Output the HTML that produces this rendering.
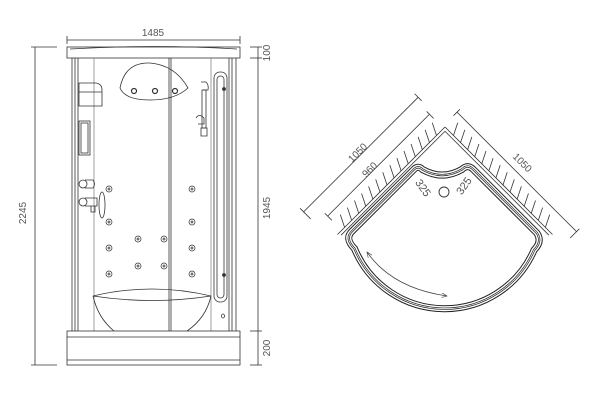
<!DOCTYPE html>
<html><head><meta charset="utf-8"><style>
html,body{margin:0;padding:0;background:#fff;}
svg{display:block;}
text{font-family:"Liberation Sans",sans-serif;font-size:10px;fill:#555;}
</style></head><body>
<svg width="600" height="414" viewBox="0 0 600 414" xmlns="http://www.w3.org/2000/svg">
<defs>
<marker id="ah" markerWidth="8" markerHeight="6" refX="7" refY="3" orient="auto-start-reverse"><path d="M0,0 L7,3 L0,6" fill="none" stroke="#444" stroke-width="0.8"/></marker>
</defs>
<g stroke="#333" fill="none" stroke-width="0.8">
<line x1="67" y1="40" x2="240" y2="40"/><line x1="67" y1="36" x2="67" y2="44"/><line x1="240" y1="36" x2="240" y2="44"/>
<line x1="35" y1="47" x2="35" y2="365"/><line x1="31" y1="47" x2="57" y2="47"/><line x1="31" y1="365" x2="57" y2="365"/>
<line x1="258" y1="47" x2="258" y2="365"/>
<line x1="250" y1="47" x2="262" y2="47"/><line x1="250" y1="58" x2="262" y2="58"/><line x1="250" y1="331" x2="262" y2="331"/><line x1="250" y1="365" x2="262" y2="365"/>
<rect x="67" y="47" width="173" height="11"/>
<path d="M70,49 Q153,44 237,49"/>
<line x1="72" y1="58" x2="72" y2="331"/><line x1="75" y1="58" x2="75" y2="331"/><line x1="78" y1="58" x2="78" y2="331"/>
<line x1="229" y1="58" x2="229" y2="331"/><line x1="232" y1="58" x2="232" y2="331"/><line x1="236" y1="58" x2="236" y2="331"/>
<line x1="94" y1="58" x2="94" y2="331" stroke="#888"/><line x1="211" y1="58" x2="211" y2="331" stroke="#888"/>
<line x1="169" y1="58" x2="169" y2="331"/><line x1="171" y1="58" x2="171" y2="331"/>
<rect x="67" y="331" width="173" height="34"/><line x1="67" y1="337" x2="240" y2="337"/><line x1="67" y1="360" x2="240" y2="360"/>
<path d="M120,88 Q125,62 150,63 Q175,65 188,88 Q175,100 150,100 Q125,100 120,88Z"/>
<circle cx="134" cy="91" r="2.5" stroke-width="1.2"/><circle cx="155" cy="91" r="2.5" stroke-width="1.2"/><circle cx="175" cy="91" r="2.5" stroke-width="1.2"/>
<path d="M79,106 L79,83 L96,83 Q102,84 102,90 L102,106Z"/><line x1="79" y1="92" x2="102" y2="92"/>
<rect x="79" y="121" width="11" height="34"/><rect x="81" y="123" width="7" height="30"/>
<circle cx="83" cy="184" r="4"/><path d="M85,180 L93,180 Q96,184 93,188 L85,188"/>
<circle cx="83" cy="202" r="4"/><path d="M85,198 L97,198 L97,206 L85,206"/><path d="M91,206 L91,212 L95,212 L95,206"/>
<ellipse cx="102" cy="205" rx="3" ry="13"/>
<rect x="214" y="72" width="13" height="230" rx="6"/><rect x="217" y="76" width="7" height="222" rx="3.5"/>
<circle cx="224" cy="89" r="1.5" fill="#333"/><circle cx="224" cy="275" r="1.5" fill="#333"/><ellipse cx="223" cy="316" rx="1.5" ry="2"/>
<path d="M201,82 L206,82 Q209,85 208,90 L203,90"/><rect x="202" y="90" width="4" height="38"/><path d="M201,128 L207,128 L207,136 L201,136Z"/>
<path d="M196,118 Q199,113 204,118 L204,124 L198,124"/>
<g stroke-width="0.7">
<circle cx="109" cy="189" r="3"/><circle cx="109" cy="189" r="1"/>
<circle cx="192" cy="189" r="3"/><circle cx="192" cy="189" r="1"/>
<circle cx="109" cy="222" r="3"/><circle cx="109" cy="222" r="1"/>
<circle cx="192" cy="222" r="3"/><circle cx="192" cy="222" r="1"/>
<circle cx="109" cy="248" r="3"/><circle cx="109" cy="248" r="1"/>
<circle cx="192" cy="248" r="3"/><circle cx="192" cy="248" r="1"/>
<circle cx="109" cy="274" r="3"/><circle cx="109" cy="274" r="1"/>
<circle cx="192" cy="274" r="3"/><circle cx="192" cy="274" r="1"/>
<circle cx="138" cy="239" r="3"/><circle cx="138" cy="239" r="1"/>
<circle cx="164" cy="239" r="3"/><circle cx="164" cy="239" r="1"/>
<circle cx="138" cy="266" r="3"/><circle cx="138" cy="266" r="1"/>
<circle cx="164" cy="266" r="3"/><circle cx="164" cy="266" r="1"/>
</g>
<path d="M93,296 Q152,282 211,296 Q152,305 93,296Z"/>
<path d="M93,296 Q98,318 114,331 M211,296 Q206,318 187,331"/>
</g>
<text x="153" y="36" text-anchor="middle">1485</text>
<text transform="translate(26,213) rotate(-90)" text-anchor="middle">2245</text>
<text transform="translate(270,53) rotate(-90)" text-anchor="middle">100</text>
<text transform="translate(270,208) rotate(-90)" text-anchor="middle">1945</text>
<text transform="translate(270,348) rotate(-90)" text-anchor="middle">200</text>

<g transform="translate(445,127) rotate(45)" stroke="#333" fill="none" stroke-width="0.8">
<line x1="0" y1="0" x2="152" y2="0"/><line x1="0" y1="0" x2="0" y2="152"/>
<line x1="3" y1="3" x2="150" y2="3"/><line x1="3" y1="3" x2="3" y2="150"/>
<path d="M6,-12 l6,12 M16,-12 l6,12 M26,-12 l6,12 M36,-12 l6,12 M46,-12 l6,12 M56,-12 l6,12 M66,-12 l6,12 M76,-12 l6,12 M86,-12 l6,12 M96,-12 l6,12 M106,-12 l6,12 M116,-12 l6,12 M126,-12 l6,12 M136,-12 l6,12"/>
<path d="M-12,6 l12,6 M-12,16 l12,6 M-12,26 l12,6 M-12,36 l12,6 M-12,46 l12,6 M-12,56 l12,6 M-12,66 l12,6 M-12,76 l12,6 M-12,86 l12,6 M-12,96 l12,6 M-12,106 l12,6 M-12,116 l12,6 M-12,126 l12,6 M-12,136 l12,6"/>
<line x1="-2" y1="-19" x2="167" y2="-19"/><line x1="-2" y1="-23" x2="-2" y2="-14"/><line x1="167" y1="-23" x2="167" y2="-10"/>
<line x1="-40" y1="-2" x2="-40" y2="160"/><line x1="-45" y1="-2" x2="-35" y2="-2"/><line x1="-45" y1="160" x2="-30" y2="160"/>
<line x1="-20" y1="2" x2="-20" y2="146"/><line x1="-24" y1="2" x2="-14" y2="2"/><line x1="-24" y1="146" x2="-14" y2="146"/>
<path id="tp" d="M8,52 Q8,46 14,46 Q36,40 42,18 Q42,10 50,10 L140,10 Q150,12 150,24 A97.6,97.6 0 0 1 22,150 Q8,150 8,140 Z" stroke="#222" stroke-width="7"/>
<path d="M8,52 Q8,46 14,46 Q36,40 42,18 Q42,10 50,10 L140,10 Q150,12 150,24 A97.6,97.6 0 0 1 22,150 Q8,150 8,140 Z" stroke="#fff" stroke-width="5"/>
<path d="M8,52 Q8,46 14,46 Q36,40 42,18 Q42,10 50,10 L140,10 Q150,12 150,24 A97.6,97.6 0 0 1 22,150 Q8,150 8,140 Z" stroke="#222" stroke-width="2.2"/>
<path d="M8,52 Q8,46 14,46 Q36,40 42,18 Q42,10 50,10 L140,10 Q150,12 150,24 A97.6,97.6 0 0 1 22,150 Q8,150 8,140 Z" stroke="#fff" stroke-width="0.8"/>
</g>
<circle cx="444" cy="192" r="5" stroke="#333" fill="none" stroke-width="0.9"/>
<path d="M367,252 Q392,288 447,296" stroke="#444" fill="none" stroke-width="0.8" marker-start="url(#ah)" marker-end="url(#ah)"/>
<text transform="translate(360,155) rotate(-45)" text-anchor="middle">1050</text>
<text transform="translate(372,172) rotate(-45)" text-anchor="middle">960</text>
<text transform="translate(520,165) rotate(45)" text-anchor="middle">1050</text>
<text transform="translate(420,190) rotate(55)" text-anchor="middle" style="font-size:11px">325</text>
<text transform="translate(467,188) rotate(-55)" text-anchor="middle" style="font-size:11px">325</text>
</svg>
</body></html>
